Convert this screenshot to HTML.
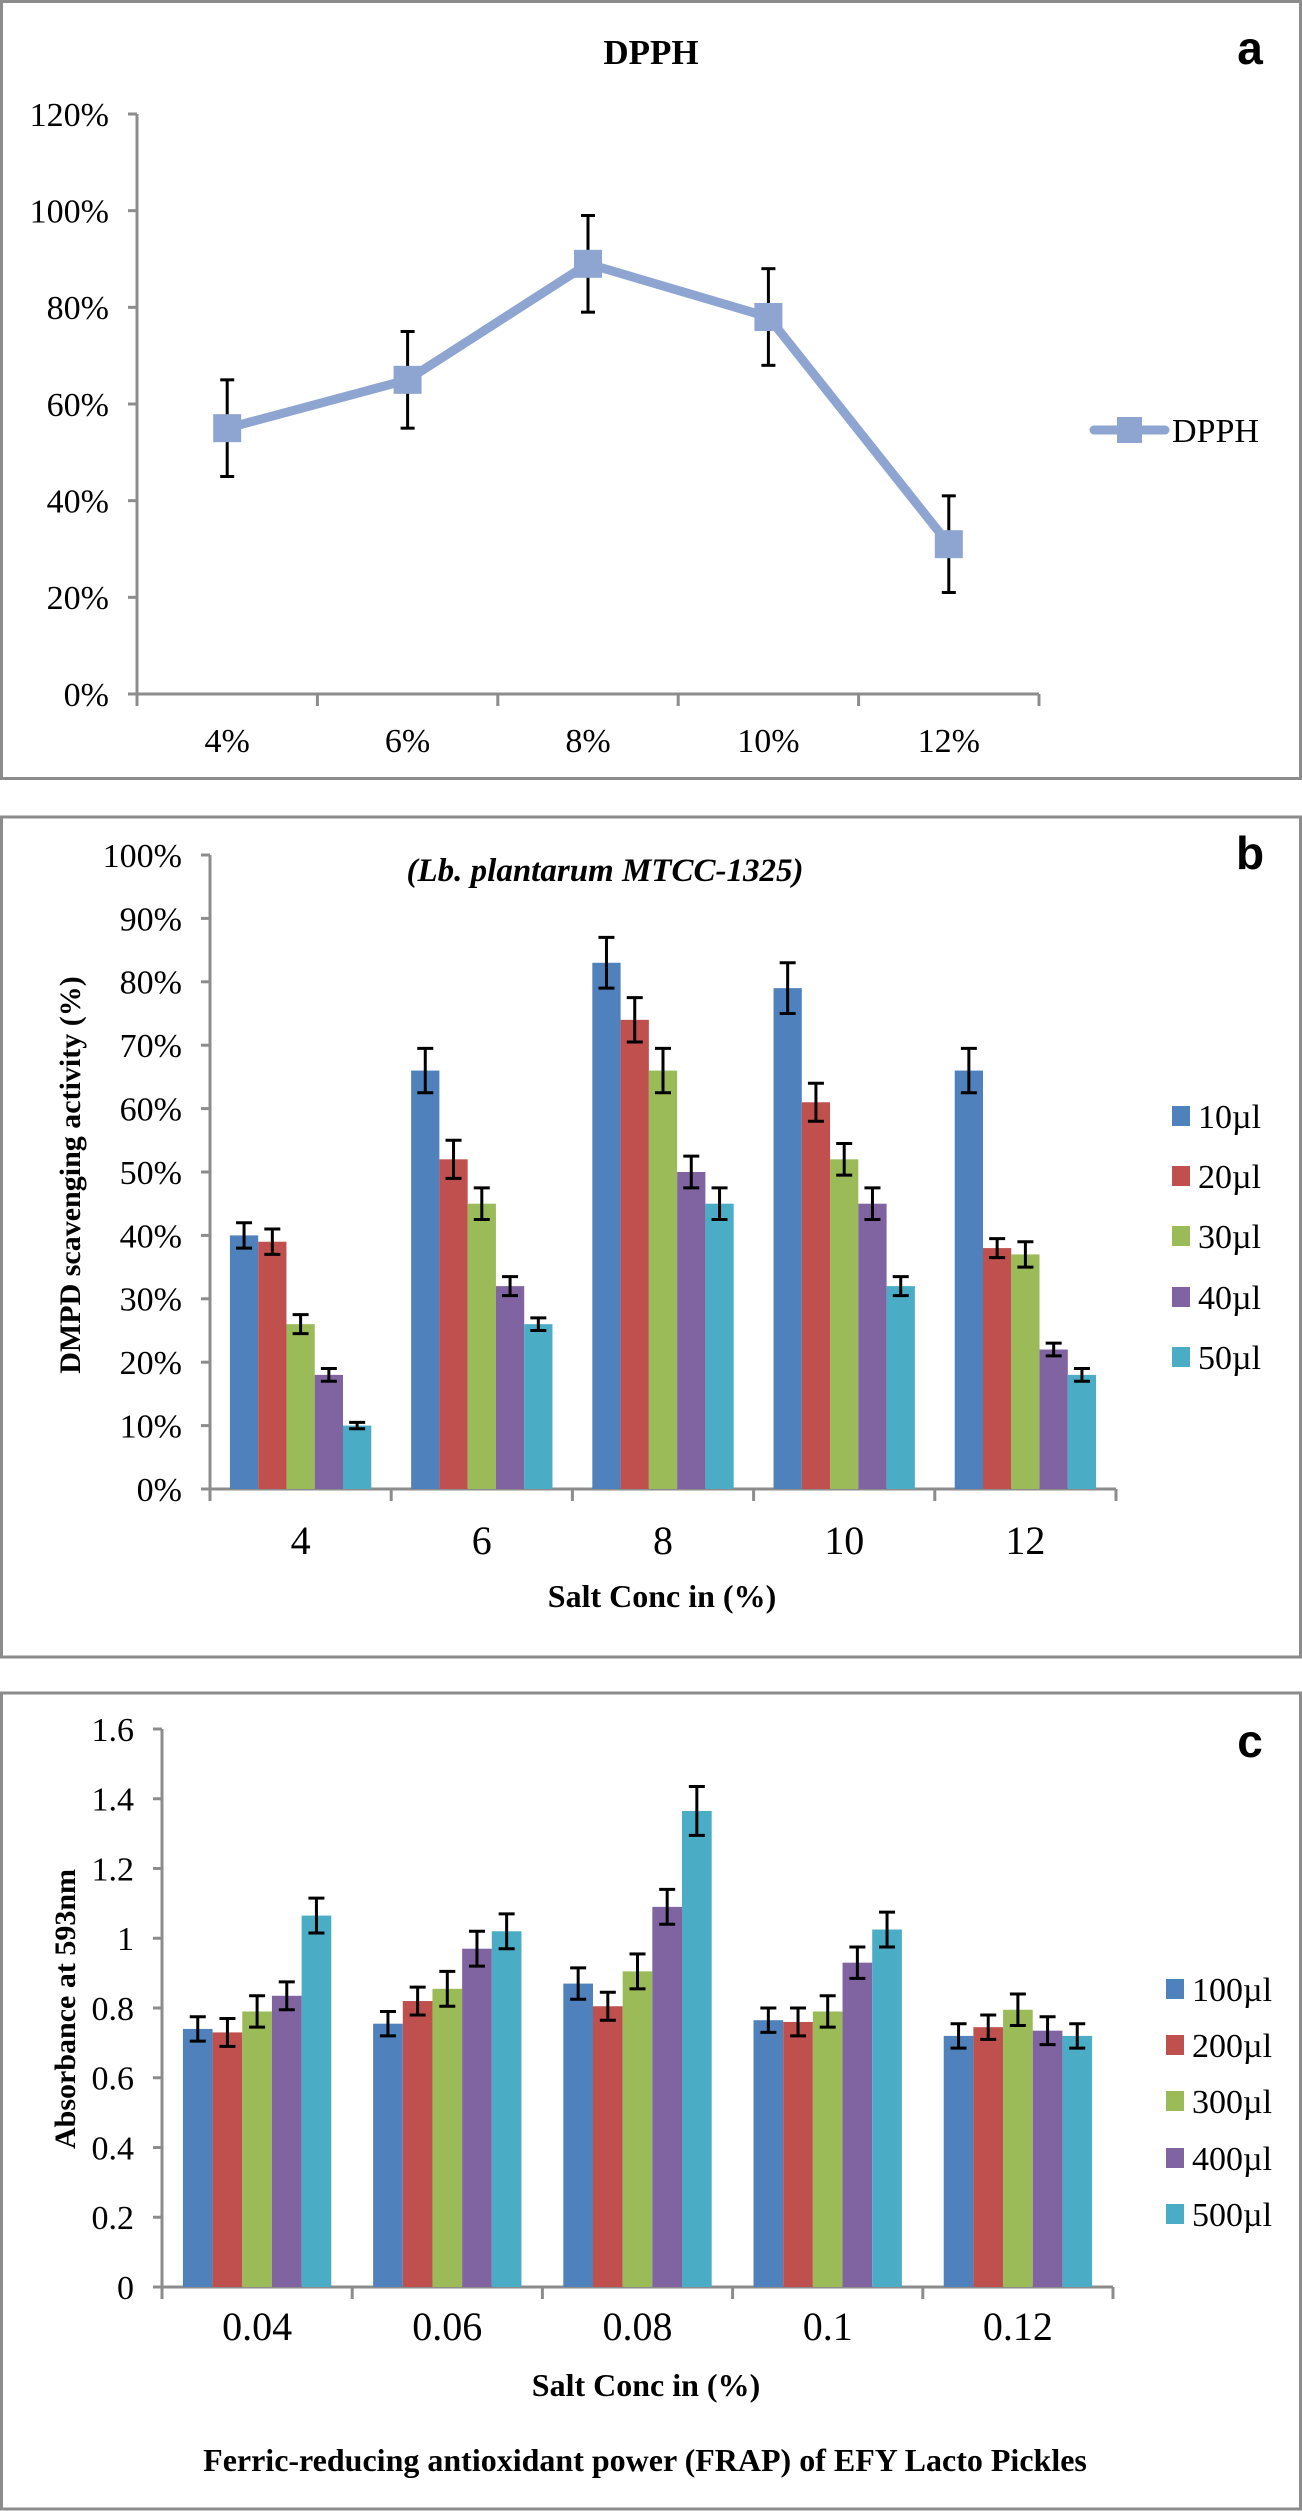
<!DOCTYPE html>
<html><head><meta charset="utf-8"><style>
html,body{margin:0;padding:0;background:#fff;}
svg{display:block;}
text{font-family:"Liberation Serif",serif;fill:#000;}
</style></head><body>
<svg id="chart" width="1302" height="2511" viewBox="0 0 1302 2511" xmlns="http://www.w3.org/2000/svg">
<rect x="1.5" y="1.5" width="1299" height="777" fill="none" stroke="#8c8c8c" stroke-width="3"/>
<rect x="1.5" y="817" width="1299" height="840" fill="none" stroke="#8c8c8c" stroke-width="3"/>
<rect x="1.5" y="1693" width="1299" height="816" fill="none" stroke="#8c8c8c" stroke-width="3"/>
<text x="651" y="64" font-size="35" font-weight="bold" text-anchor="middle">DPPH</text>
<text x="1250" y="64" font-size="46" font-weight="bold" text-anchor="middle" style="font-family:'Liberation Sans',sans-serif">a</text>
<text x="1250" y="869" font-size="46" font-weight="bold" text-anchor="middle" style="font-family:'Liberation Sans',sans-serif">b</text>
<text x="1250" y="1757" font-size="46" font-weight="bold" text-anchor="middle" style="font-family:'Liberation Sans',sans-serif">c</text>
<text x="605" y="881" font-size="33" font-weight="bold" font-style="italic" text-anchor="middle">(Lb. plantarum MTCC-1325)</text>
<text x="662" y="1607" font-size="32" font-weight="bold" text-anchor="middle">Salt Conc in (%)</text>
<text transform="translate(80,1175) rotate(-90)" font-size="30" font-weight="bold" text-anchor="middle">DMPD scavenging activity (%)</text>
<text x="646" y="2396" font-size="32" font-weight="bold" text-anchor="middle">Salt Conc in (%)</text>
<text x="645" y="2471" font-size="32" font-weight="bold" text-anchor="middle">Ferric-reducing antioxidant power (FRAP) of EFY Lacto Pickles</text>
<text transform="translate(75,2009) rotate(-90)" font-size="30" font-weight="bold" text-anchor="middle">Absorbance at 593nm</text>
<g id="ga"></g><g id="gb"></g><g id="gc"></g>
</svg>
<script>
// Panel a data
const aCats = ["4%","6%","8%","10%","12%"];
const aVals = [55,65,89,78,31];
const aErr = [10,10,10,10,10];
const aTicks = ["0%","20%","40%","60%","80%","100%","120%"];
// Panel b data
const bCats = ["4","6","8","10","12"];
const bSeries = ["10µl","20µl","30µl","40µl","50µl"];
const b10 = [40,66,83,79,66];
const b20 = [39,52,74,61,38];
const b30 = [26,45,66,52,37];
const b40 = [18,32,50,45,22];
const b50 = [10,26,45,32,18];
const bE10 = [2,3.5,4,4,3.5];
const bE20 = [2,3,3.5,3,1.5];
const bE30 = [1.5,2.5,3.5,2.5,2];
const bE40 = [1,1.5,2.5,2.5,1];
const bE50 = [0.5,1,2.5,1.5,1];
const bTicks = ["0%","10%","20%","30%","40%","50%","60%","70%","80%","90%","100%"];
// Panel c data
const cCats = ["0.04","0.06","0.08","0.1","0.12"];
const cSeries = ["100µl","200µl","300µl","400µl","500µl"];
const c100 = [0.74,0.755,0.87,0.765,0.72];
const c200 = [0.73,0.82,0.805,0.76,0.745];
const c300 = [0.79,0.855,0.905,0.79,0.795];
const c400 = [0.835,0.97,1.09,0.93,0.735];
const c500 = [1.065,1.02,1.365,1.025,0.72];
const cE100 = [0.035,0.035,0.045,0.035,0.035];
const cE200 = [0.04,0.04,0.04,0.04,0.035];
const cE300 = [0.045,0.05,0.05,0.045,0.045];
const cE400 = [0.04,0.05,0.05,0.045,0.04];
const cE500 = [0.05,0.05,0.07,0.05,0.035];
const cTicks = ["0","0.2","0.4","0.6","0.8","1","1.2","1.4","1.6"];

const NS="http://www.w3.org/2000/svg";
const colors=["#4f81bd","#c0504d","#9bbb59","#8064a2","#4bacc6"];
function mk(p,tag,at){const e=document.createElementNS(NS,tag);for(const k in at)e.setAttribute(k,at[k]);p.appendChild(e);return e;}
function axes(g,x0,x1,y0,y1,ticks,tmax,cats,tickFs,catFs,catY,prefix){
  mk(g,'line',{x1:x0,y1:y0,x2:x0,y2:y1,stroke:'#8c8c8c','stroke-width':3});
  mk(g,'line',{x1:x0,y1:y0,x2:x1,y2:y0,stroke:'#8c8c8c','stroke-width':3});
  ticks.forEach((t,i)=>{const y=y0-(y0-y1)*i/(ticks.length-1);
    mk(g,'line',{x1:x0-9,y1:y,x2:x0,y2:y,stroke:'#8c8c8c','stroke-width':3});
    const tx=mk(g,'text',{x:x0-28,y:y+tickFs*0.35,'font-size':tickFs,'text-anchor':'end'});tx.textContent=t;
    
    });
  const cw=(x1-x0)/cats.length;
  for(let i=0;i<=cats.length;i++)mk(g,'line',{x1:x0+cw*i,y1:y0,x2:x0+cw*i,y2:y0+12,stroke:'#8c8c8c','stroke-width':3});
  cats.forEach((c,i)=>{const tx=mk(g,'text',{x:x0+cw*(i+0.5),y:catY,'font-size':catFs,'text-anchor':'middle'});tx.textContent=c;
    
    });
  return cw;
}
function errbar(g,x,ya,yb,cap,name){
  mk(g,'line',{x1:x,y1:ya,x2:x,y2:yb,stroke:'#000','stroke-width':3});
  mk(g,'line',{x1:x-cap,y1:ya,x2:x+cap,y2:ya,stroke:'#000','stroke-width':3});
  const e=mk(g,'line',{x1:x-cap,y1:yb,x2:x+cap,y2:yb,stroke:'#000','stroke-width':3});
  
  
}
// Panel a
(function(){const g=document.getElementById('ga');
  const x0=137,x1=1039,y0=694,y1=114,vmax=120;
  const cw=axes(g,x0,x1,y0,y1,aTicks,vmax,aCats,34,34,752,'panel-a');
  const X=i=>x0+cw*(i+0.5),Y=v=>y0-(y0-y1)*v/vmax;
  const pts=aVals.map((v,i)=>X(i)+','+Y(v)).join(' ');
  const pl=mk(g,'polyline',{points:pts,fill:'none',stroke:'#8ea5d2','stroke-width':9,'stroke-linejoin':'round'});
  
  
  aVals.forEach((v,i)=>{errbar(g,X(i),Y(v+aErr[i]),Y(v-aErr[i]),7,'dpph-error-bar');
    const r=mk(g,'rect',{x:X(i)-14,y:Y(v)-14,width:28,height:28,fill:'#8ea5d2'});
    
    });
  mk(g,'line',{x1:1094,y1:430,x2:1165,y2:430,stroke:'#8ea5d2','stroke-width':9,'stroke-linecap':'round'});
  mk(g,'rect',{x:1117,y:417,width:25,height:26,fill:'#8ea5d2'});
  const t=mk(g,'text',{x:1172,y:442,'font-size':34});t.textContent='DPPH';
  
  
})();
function barPanel(gid,x0,x1,y0,y1,vmax,ticks,cats,series,vals,errs,catY,legX,legYs,prefix){
  const g=document.getElementById(gid);
  const cw=axes(g,x0,x1,y0,y1,ticks,vmax,cats,34,40,catY,prefix);
  const Y=v=>y0-(y0-y1)*v/vmax;
  const bw=cw*0.78/5,off=cw*0.11;
  vals.forEach((arr,s)=>arr.forEach((v,i)=>{const x=x0+cw*i+off+bw*s;
    const r=mk(g,'rect',{x:x,y:Y(v),width:bw,height:y0-Y(v),fill:colors[s]});
    
    }));
  vals.forEach((arr,s)=>arr.forEach((v,i)=>{const x=x0+cw*i+off+bw*s+bw/2;
    errbar(g,x,Y(v+errs[s][i]),Y(v-errs[s][i]),8,prefix+'-error-bar');}));
  series.forEach((nm,s)=>{const y=legYs[s];
    mk(g,'rect',{x:legX,y:y-10,width:18,height:20,fill:colors[s]});
    const t=mk(g,'text',{x:legX+26,y:y+12,'font-size':34});t.textContent=nm;
    
    });
}
barPanel('gb',210,1116,1489,855,100,bTicks,bCats,bSeries,[b10,b20,b30,b40,b50],[bE10,bE20,bE30,bE40,bE50],1554,1172,[1116,1176,1236,1297,1357],'panel-b');
barPanel('gc',162,1113,2287,1729,1.6,cTicks,cCats,cSeries,[c100,c200,c300,c400,c500],[cE100,cE200,cE300,cE400,cE500],2340,1166,[1989,2045,2101,2158,2214],'panel-c');
</script>
</body></html>
